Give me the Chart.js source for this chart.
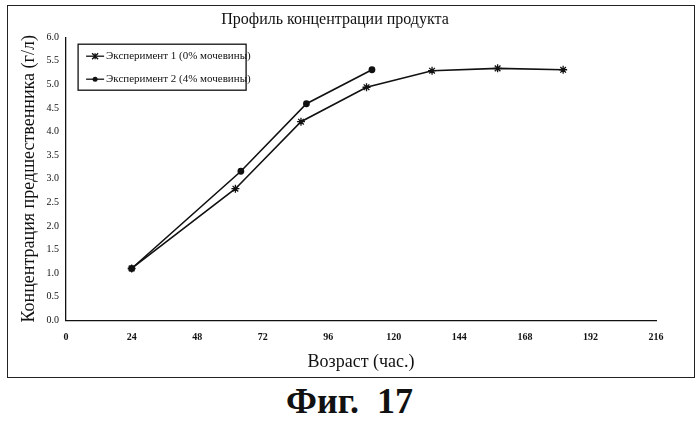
<!DOCTYPE html><html><head><meta charset="utf-8">
<script src="https://cdn.jsdelivr.net/npm/chart.js@4"></script>
<style>body{margin:0;background:#fff;width:699px;height:424px;position:relative;overflow:hidden}
#box{position:absolute;left:7px;top:5px;width:686px;height:371px;border:1.5px solid #222}
#fig{position:absolute;left:0;width:699px;top:380px;text-align:center;font:bold 36px "Liberation Serif";color:#111}
</style></head><body>
<div id="box"><canvas id="c" width="686" height="371"></canvas></div>
<div id="fig">Фиг.&nbsp; 17</div>
<script>
const xTicks=[0,24,48,72,96,120,144,168,192,216];
const exp1X=[24,62,86,110,134,158,182];
const exp1Y=[1.10,2.79,4.21,4.94,5.29,5.34,5.31];
const exp2X=[24,64,88,112];
const exp2Y=[1.10,3.16,4.59,5.31];
const names=['Эксперимент 1 (0% мочевины)','Эксперимент 2 (4% мочевины)'];
const F='"Liberation Serif", serif';
const legendPlugin={id:'lg',afterDraw(ch){const c=ch.ctx;const x=ch.chartArea.left+12,y=ch.chartArea.top+7;
c.save();c.strokeStyle='#111';c.lineWidth=1.3;c.strokeRect(x,y,168,46);
c.font='11px '+F;c.fillStyle='#111';c.textBaseline='middle';
[0,1].forEach(i=>{const yy=y+12+i*23;c.beginPath();c.moveTo(x+8,yy);c.lineTo(x+26,yy);c.stroke();
if(i==0){c.beginPath();const r=3;c.moveTo(x+17-r,yy-r);c.lineTo(x+17+r,yy+r);c.moveTo(x+17-r,yy+r);c.lineTo(x+17+r,yy-r);c.moveTo(x+17,yy-r);c.lineTo(x+17,yy+r);c.stroke();}
else{c.beginPath();c.arc(x+17,yy,2.5,0,7);c.fill();}
c.fillText(names[i],x+28,yy);});c.restore();}};
new Chart(document.getElementById('c'),{type:'scatter',
data:{datasets:[
{label:names[0],data:exp1X.map((x,i)=>({x,y:exp1Y[i]})),showLine:true,borderColor:'#111',backgroundColor:'#111',borderWidth:1.6,pointStyle:'star',pointRadius:4,pointBorderWidth:1.3},
{label:names[1],data:exp2X.map((x,i)=>({x,y:exp2Y[i]})),showLine:true,borderColor:'#111',backgroundColor:'#111',borderWidth:1.6,pointStyle:'circle',pointRadius:2.6}]},
plugins:[legendPlugin],
options:{responsive:false,animation:false,devicePixelRatio:1,
layout:{padding:{right:38,top:0,left:6}},
plugins:{legend:{display:false},tooltip:{enabled:false},
title:{display:true,text:'Профиль концентрации продукта',color:'#111',font:{family:F,size:16,weight:'normal'},padding:{top:4,bottom:8}}},
scales:{
x:{type:'linear',min:0,max:216,afterBuildTicks(s){s.ticks=xTicks.map(v=>({value:v}));},
grid:{display:false,drawTicks:true,tickLength:5,tickColor:'#111'},border:{color:'#111',width:1.3},
ticks:{color:'#111',font:{family:F,size:10,weight:'bold'},maxRotation:0,padding:6},
title:{display:true,text:'Возраст (час.)',color:'#111',font:{family:F,size:18},padding:{top:2}}},
y:{min:0,max:6,grid:{display:false,tickLength:4,tickColor:'#111'},border:{color:'#111',width:1.3},
ticks:{stepSize:0.5,color:'#111',font:{family:F,size:10},callback:v=>v.toFixed(1)},
title:{display:true,text:'Концентрация предшественника (г/л)',color:'#111',font:{family:F,size:18},padding:{bottom:4}}}}}});
</script>
</body></html>
